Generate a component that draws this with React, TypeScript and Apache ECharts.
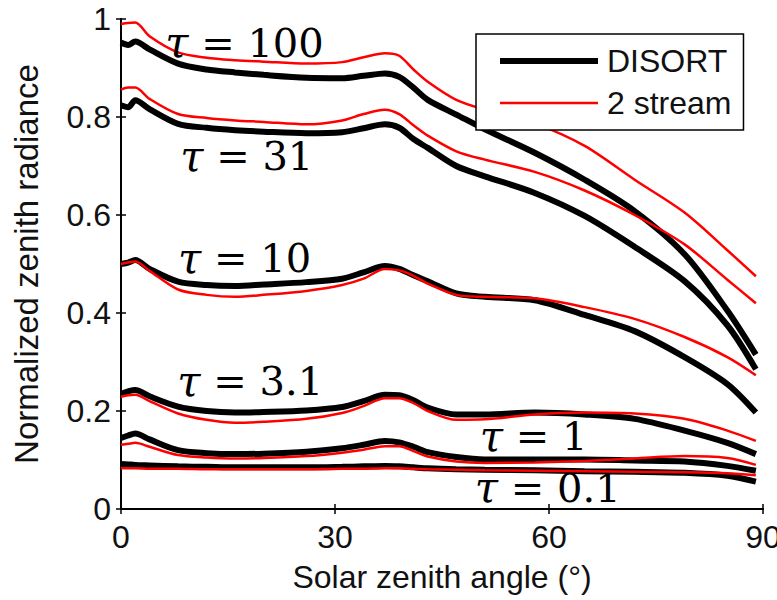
import React, { useEffect, useRef } from "react";
import * as echarts from "echarts";

// Solar zenith angle (degrees)
const angles = [0, 1, 2, 4, 8, 12, 16, 20, 26, 31, 34, 37, 39, 41, 43, 47, 51, 58, 65, 72, 79, 85, 89];

// DISORT (black)
const disort100 = [0.952, 0.947, 0.954, 0.938, 0.909, 0.897, 0.891, 0.886, 0.88, 0.879, 0.884, 0.889, 0.882, 0.86, 0.835, 0.805, 0.775, 0.727, 0.672, 0.608, 0.52, 0.405, 0.315];
const disort31 = [0.824, 0.82, 0.834, 0.816, 0.786, 0.778, 0.773, 0.77, 0.767, 0.769, 0.777, 0.785, 0.778, 0.755, 0.737, 0.7, 0.679, 0.645, 0.598, 0.535, 0.465, 0.375, 0.285];
const disort10 = [0.5, 0.503, 0.508, 0.49, 0.464, 0.457, 0.455, 0.458, 0.463, 0.47, 0.483, 0.496, 0.49, 0.477, 0.465, 0.44, 0.433, 0.426, 0.396, 0.363, 0.31, 0.255, 0.197];
const disort3_1 = [0.235, 0.24, 0.243, 0.23, 0.209, 0.2, 0.197, 0.198, 0.201, 0.208, 0.22, 0.233, 0.232, 0.222, 0.207, 0.193, 0.193, 0.197, 0.193, 0.184, 0.16, 0.135, 0.112];
const disort1 = [0.145, 0.15, 0.154, 0.142, 0.12, 0.114, 0.112, 0.113, 0.117, 0.124, 0.131, 0.139, 0.136, 0.127, 0.116, 0.106, 0.101, 0.101, 0.101, 0.099, 0.097, 0.088, 0.078];
const disort0_1 = [0.092, 0.091, 0.09, 0.089, 0.087, 0.086, 0.085, 0.085, 0.085, 0.086, 0.087, 0.088, 0.087, 0.085, 0.083, 0.081, 0.08, 0.079, 0.077, 0.076, 0.074, 0.068, 0.056];

// 2 stream (red)
const twoStream100 = [0.99, 0.992, 0.993, 0.965, 0.932, 0.921, 0.916, 0.913, 0.909, 0.912, 0.922, 0.93, 0.925, 0.897, 0.872, 0.835, 0.815, 0.787, 0.741, 0.672, 0.605, 0.528, 0.475];
const twoStream31 = [0.856, 0.86, 0.86, 0.837, 0.806, 0.798, 0.793, 0.79, 0.785, 0.793, 0.806, 0.815, 0.806, 0.783, 0.762, 0.73, 0.713, 0.688, 0.65, 0.6, 0.54, 0.468, 0.42];
const twoStream10 = [0.5, 0.503, 0.505, 0.486, 0.448, 0.437, 0.433, 0.437, 0.445, 0.457, 0.47, 0.49, 0.487, 0.476, 0.46, 0.437, 0.433, 0.43, 0.412, 0.388, 0.351, 0.31, 0.273];
const twoStream3_1 = [0.229, 0.232, 0.233, 0.22, 0.195, 0.182, 0.176, 0.178, 0.184, 0.196, 0.21, 0.226, 0.226, 0.216, 0.2, 0.182, 0.183, 0.193, 0.197, 0.195, 0.184, 0.16, 0.139];
const twoStream1 = [0.131, 0.133, 0.135, 0.127, 0.11, 0.105, 0.103, 0.104, 0.108, 0.115, 0.121, 0.128, 0.128, 0.118, 0.107, 0.097, 0.094, 0.095, 0.098, 0.103, 0.108, 0.104, 0.09];
const twoStream0_1 = [0.083, 0.083, 0.083, 0.082, 0.082, 0.081, 0.081, 0.081, 0.081, 0.082, 0.082, 0.083, 0.083, 0.082, 0.081, 0.08, 0.079, 0.078, 0.077, 0.076, 0.075, 0.073, 0.069];

const disortSeries = [disort100, disort31, disort10, disort3_1, disort1, disort0_1];
const twoStreamSeries = [twoStream100, twoStream31, twoStream10, twoStream3_1, twoStream1, twoStream0_1];

// Curve annotations: [angle, value, optical depth text]
const tauLabels: [number, number, string][] = [
  [6.2, 0.952, "100"],
  [8.3, 0.72, "31"],
  [8.0, 0.512, "10"],
  [7.9, 0.261, "3.1"],
  [50.3, 0.148, "1"],
  [49.6, 0.043, "0.1"],
];

const xTicks = { min: 0, max: 90, interval: 30 };
const yTicks = { min: 0, max: 1, interval: 0.2 };

const SANS = "'Liberation Sans', Arial, Helvetica, sans-serif";
const SERIF = "'DejaVu Serif', serif";

export default function App() {
  const ref = useRef<HTMLDivElement>(null);
  useEffect(() => {
    if (!ref.current) return;
    const chart = echarts.init(ref.current, null, { renderer: "svg" });
    const toData = (vals: number[]) => angles.map((a, i) => [a, vals[i]]);
    const axisLine = { show: true, lineStyle: { color: "#000", width: 2 } };
    const tick = { show: true, inside: true, length: 5, lineStyle: { color: "#000", width: 1.5 } };
    const series: any[] = [];
    disortSeries.forEach((vals) =>
      series.push({
        name: "DISORT",
        type: "line",
        data: toData(vals),
        symbol: "none",
        smooth: 0.3,
        lineStyle: { color: "#000", width: 6 },
        itemStyle: { color: "#000" },
      })
    );
    twoStreamSeries.forEach((vals) =>
      series.push({
        name: "2 stream",
        type: "line",
        data: toData(vals),
        symbol: "none",
        smooth: 0.3,
        lineStyle: { color: "#ff0000", width: 2.5 },
        itemStyle: { color: "#ff0000" },
      })
    );
    chart.setOption({
      animation: false,
      grid: { left: 121, right: 14, top: 19, bottom: 91, containLabel: false, outerBoundsMode: "none" },
      xAxis: [
        {
          type: "value",
          position: "bottom",
          ...xTicks,
          axisLine,
          axisTick: tick,
          splitLine: { show: false },
          axisLabel: { margin: 12, fontSize: 32, fontFamily: SANS, color: "#111" },
          name: "Solar zenith angle (°)",
          nameLocation: "middle",
          nameGap: 52,
          nameTextStyle: { fontSize: 32, fontFamily: SANS, color: "#111" },
        },
        {
          type: "value",
          position: "top",
          ...xTicks,
          axisLine,
          axisTick: tick,
          splitLine: { show: false },
          axisLabel: { show: false },
        },
      ],
      yAxis: [
        {
          type: "value",
          position: "left",
          ...yTicks,
          axisLine,
          axisTick: tick,
          splitLine: { show: false },
          axisLabel: { margin: 10, fontSize: 32, fontFamily: SANS, color: "#111" },
          name: "Normalized zenith radiance",
          nameLocation: "middle",
          nameGap: 78,
          nameTextStyle: { fontSize: 33, fontFamily: SANS, color: "#111" },
        },
        {
          type: "value",
          position: "right",
          ...yTicks,
          axisLine,
          axisTick: tick,
          splitLine: { show: false },
          axisLabel: { show: false },
        },
      ],
      legend: {
        data: [
          { name: "DISORT", lineStyle: { width: 6 }, itemStyle: { opacity: 0 } },
          { name: "2 stream", lineStyle: { width: 2.5 }, itemStyle: { opacity: 0 } },
        ],
        orient: "vertical",
        left: 476,
        top: 34,
        itemWidth: 98,
        itemHeight: 30,
        itemGap: 10,
        padding: [11, 12, 11, 21],
        borderColor: "#000",
        borderWidth: 1.5,
        backgroundColor: "#fff",
        selectedMode: false,
        textStyle: { fontSize: 32, fontFamily: SANS, color: "#111", padding: [0, 0, 0, 4] },
      },
      series,
    });
    const graphic = tauLabels.map(([a, v, t]) => {
      const p = chart.convertToPixel({ gridIndex: 0 }, [a, v]) as number[];
      return {
        type: "text",
        x: p[0],
        y: p[1],
        z: 100,
        style: {
          text: "{i|τ} = " + t,
          fontFamily: SERIF,
          fontSize: 40,
          fill: "#000",
          verticalAlign: "middle",
          align: "left",
          rich: {
            i: { fontFamily: SERIF, fontSize: 42, fontStyle: "italic", fill: "#000" },
          },
        },
      };
    });
    chart.setOption({ graphic });
    return () => chart.dispose();
  }, []);
  return (
    <div
      ref={ref}
      style={{ position: "absolute", left: 0, top: 0, width: 777, height: 600, background: "#fff" }}
    />
  );
}
